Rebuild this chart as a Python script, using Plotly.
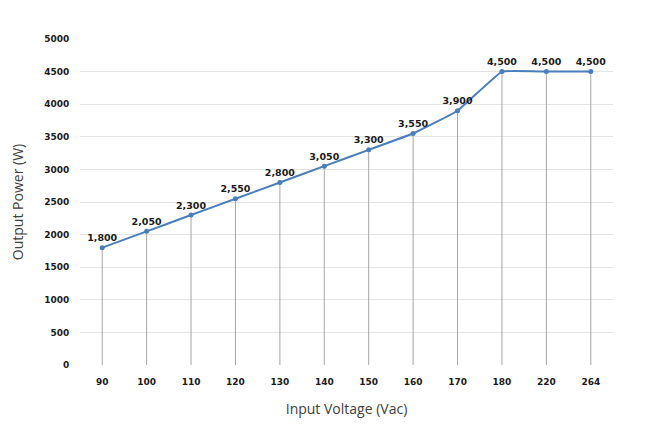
import plotly.graph_objects as go

voltages = ["90", "100", "110", "120", "130", "140", "150", "160", "170", "180", "220", "264"]
power = [1800, 2050, 2300, 2550, 2800, 3050, 3300, 3550, 3900, 4500, 4500, 4500]
y_ticks = [0, 500, 1000, 1500, 2000, 2500, 3000, 3500, 4000, 4500, 5000]

labels = [f"{v:,}" for v in power]

fig = go.Figure()

# drop lines
fig.add_trace(go.Scatter(
    x=voltages, y=power, mode="markers",
    marker=dict(size=1, color="rgba(0,0,0,0)"),
    error_y=dict(type="data", symmetric=False, array=[0] * len(power),
                 arrayminus=power, width=0, thickness=1, color="#a6a6a6"),
    hoverinfo="skip", showlegend=False,
))

fig.add_trace(go.Scatter(
    x=voltages, y=power, mode="lines+markers+text",
    line=dict(color="#4a7ebb", width=2, shape="spline", smoothing=0.25),
    marker=dict(size=5, color="#4a7ebb"),
    text=labels, textposition="top center",
    textfont=dict(family="DejaVu Sans", size=9.5, color="#1a1a1a", weight="bold"),
    showlegend=False,
))

fig.update_layout(
    width=662, height=430,
    margin=dict(l=72, r=57, t=31, b=73),
    plot_bgcolor="white", paper_bgcolor="white",
    xaxis=dict(
        type="category", range=[-0.5, 11.5], automargin=False,
        showgrid=False, zeroline=False, showline=False,
        ticks="outside", ticklen=8, tickcolor="rgba(0,0,0,0)",
        tickfont=dict(family="DejaVu Sans", size=9, color="#1a1a1a", weight="bold"),
        title=dict(text="Input Voltage (Vac)", standoff=18,
                   font=dict(family="Open Sans", size=14, color="#404040")),
    ),
    yaxis=dict(
        range=[0, 5000], tickvals=y_ticks, automargin=False,
        showgrid=True, gridcolor="#e4e4e4", gridwidth=1,
        zeroline=False, showline=False,
        ticks="outside", ticklen=8, tickcolor="rgba(0,0,0,0)",
        tickfont=dict(family="DejaVu Sans", size=9, color="#1a1a1a", weight="bold"),
        title=dict(text="Output Power (W)", standoff=20,
                   font=dict(family="Open Sans", size=14, color="#404040")),
    ),
)

fig.write_html("out.html")
